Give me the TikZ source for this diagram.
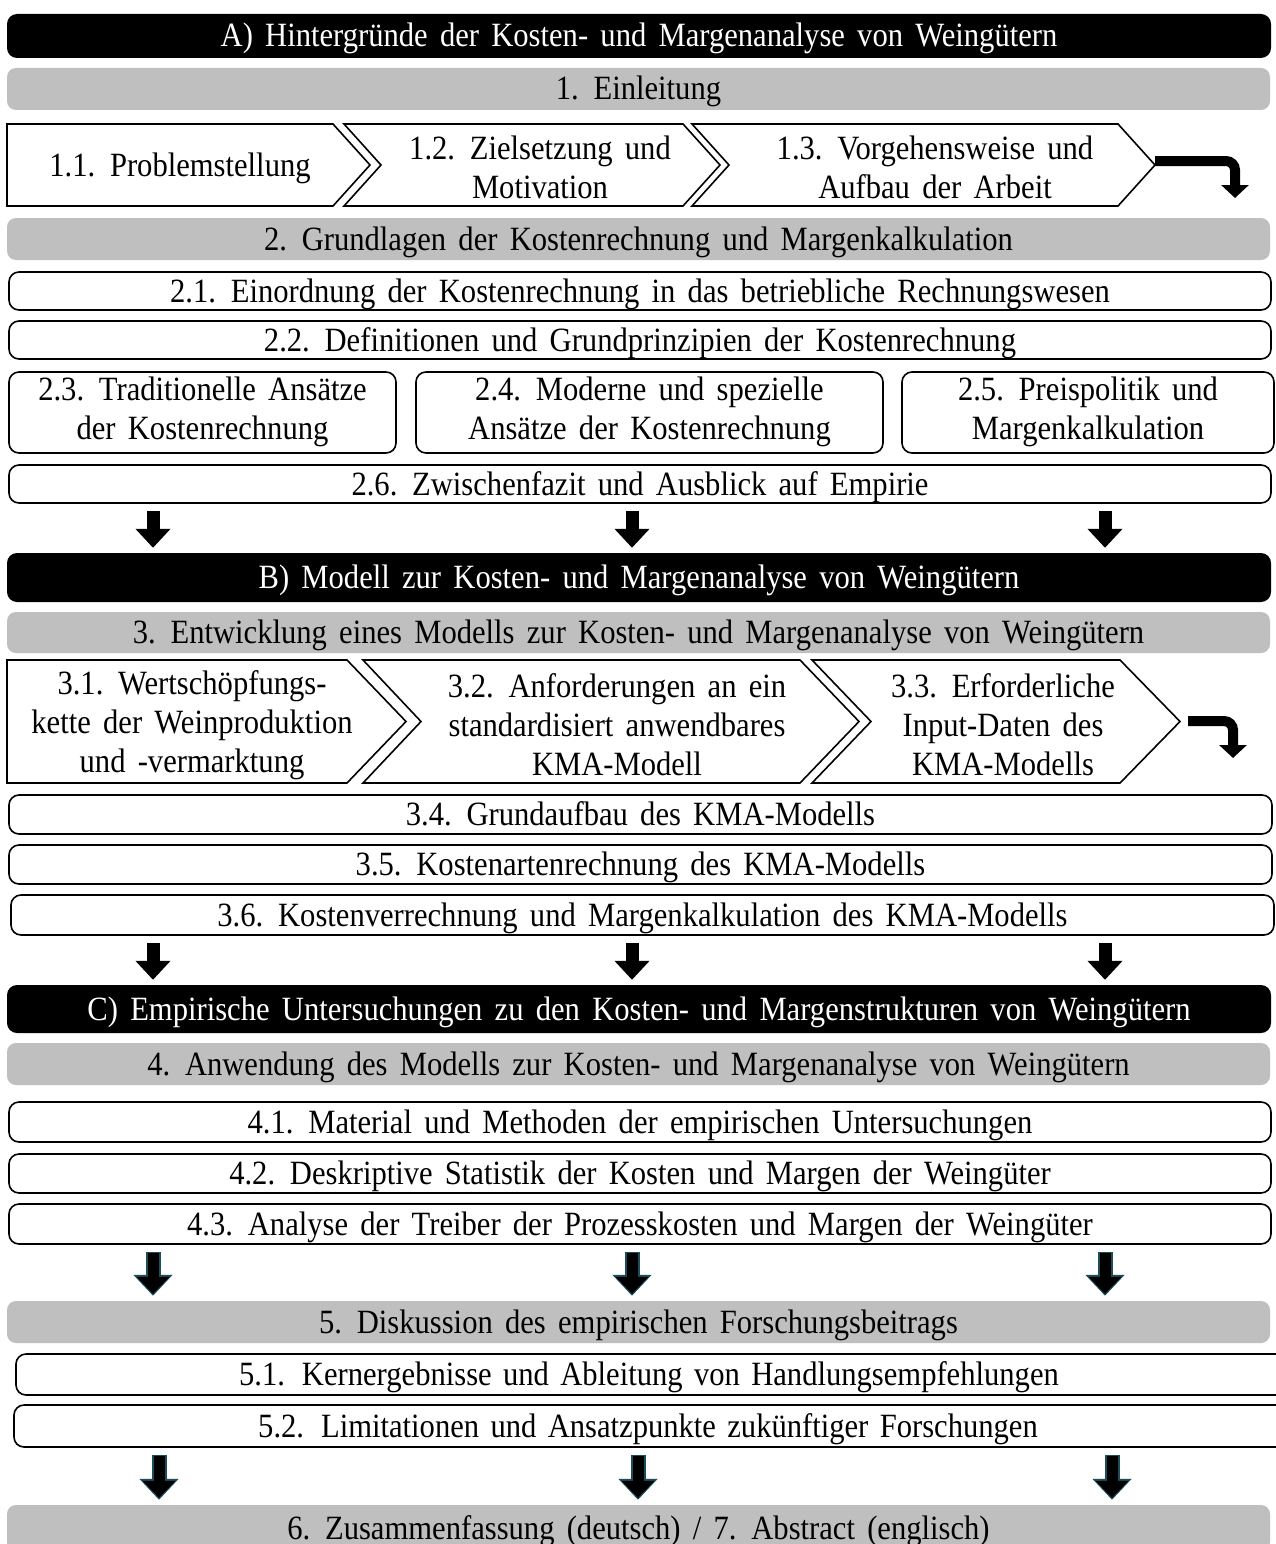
\documentclass[tikz,border=0pt]{standalone}
\usepackage{fontspec}
\setmainfont{Liberation Serif}[FakeStretch=0.9, WordSpace=1.6]
\usetikzlibrary{arrows.meta,calc}
\definecolor{barg}{HTML}{BFBFBF}
\definecolor{tealo}{HTML}{1B4E5A}
\newcommand{\twolines}[2]{\raisebox{-3pt}{\begin{tabular}{@{}c@{}}#1\\#2\end{tabular}}}
\begin{document}
\begin{tikzpicture}[x=1pt,y=-1pt,
  every node/.style={font=\fontsize{34}{39}\selectfont, inner sep=0pt, align=center},
  one/.style={text height=26pt, text depth=4pt},
  bbar/.style={one, fill=black, text=white, rounded corners=10pt, minimum width=1264pt},
  gbar/.style={one, fill=barg, rounded corners=9pt, minimum width=1263pt},
  wbox/.style={draw=black, line width=1.6pt, fill=white, rounded corners=10pt},
  chev/.style={draw=black, line width=1.6pt, fill=white, line join=miter},
  darr/.style={line width=13pt, -{Triangle[width=34pt,length=19pt]}, shorten <=7pt, shorten >=5pt},
  tarr/.style={line width=15pt, draw=tealo, -{Triangle[width=38pt,length=21pt]}, shorten <=7pt, shorten >=5pt},
  tarri/.style={line width=11pt, draw=black, -{Triangle[width=32pt,length=17pt]}, shorten <=8.5pt, shorten >=7pt},
  bent/.style={line width=10pt, rounded corners=9pt, -{Triangle[width=27pt,length=13pt]}}]
\useasboundingbox (0,0) rectangle (1276,1544);
\fill[white] (0,0) rectangle (1276,1544);
% x columns
\coordinate (xa) at (153,0);
\coordinate (xb) at (632,0);
\coordinate (xc) at (1105,0);
\coordinate (xd) at (159,0);
\coordinate (xe) at (638,0);
\coordinate (xf) at (1112,0);
% Part A
\node[bbar, minimum height=44pt] (A) at (639,36) {A) Hintergründe der Kosten- und Margenanalyse von Weingütern};
\node[gbar, minimum height=42pt] (g1) at (638.5,89) {1. Einleitung};
% chevrons row 1
\draw[chev] (7,124) -- (333,124) -- (370,165) -- (333,206) -- (7,206) -- cycle;
\draw[chev] (344,124) -- (683,124) -- (720,165) -- (683,206) -- (344,206) -- (381,165) -- cycle;
\draw[chev] (692,124) -- (1118,124) -- (1155,165) -- (1118,206) -- (692,206) -- (729,165) -- cycle;
\coordinate (t13) at (1155,161);
\node[one] (c11) at (180,165) {1.1. Problemstellung};
\node (c12) at (540,167) {1.2. Zielsetzung und\\Motivation};
\node (c13) at (935,167) {1.3. Vorgehensweise und\\Aufbau der Arbeit};
\draw[bent] (t13) -- (1235,161) -- (1235,198);
\node[gbar, minimum height=42pt] (g2) at (638.5,239) {2. Grundlagen der Kostenrechnung und Margenkalkulation};
\node[wbox, one, minimum width=1262pt, minimum height=38pt] (n21) at (640,291) {2.1. Einordnung der Kostenrechnung in das betriebliche Rechnungswesen};
\node[wbox, one, minimum width=1262pt, minimum height=38pt] (n22) at (640,340) {2.2. Definitionen und Grundprinzipien der Kostenrechnung};
\node[wbox, minimum width=387pt, minimum height=81pt] (n23) at (202.5,412.5) {\twolines{2.3. Traditionelle Ansätze}{der Kostenrechnung}};
\node[wbox, minimum width=467pt, minimum height=81pt] (n24) at (649.5,412.5) {\twolines{2.4. Moderne und spezielle}{Ansätze der Kostenrechnung}};
\node[wbox, minimum width=372pt, minimum height=81pt] (n25) at (1088,412.5) {\twolines{2.5. Preispolitik und}{Margenkalkulation}};
\node[wbox, one, minimum width=1262pt, minimum height=38pt] (n26) at (640,484) {2.6. Zwischenfazit und Ausblick auf Empirie};
% Part B
\node[bbar, minimum height=49pt] (B) at (639,577.5) {B) Modell zur Kosten- und Margenanalyse von Weingütern};
\foreach \c in {xa,xb,xc} \draw[darr] (n26.south -| \c) -- (B.north -| \c);
\node[gbar, minimum height=41pt] (g3) at (638.5,632.5) {3. Entwicklung eines Modells zur Kosten- und Margenanalyse von Weingütern};
% chevrons row 2
\draw[chev] (7,660) -- (347,660) -- (406,721.5) -- (347,783) -- (7,783) -- cycle;
\draw[chev] (363,660) -- (800,660) -- (859,721.5) -- (800,783) -- (363,783) -- (421,721.5) -- cycle;
\draw[chev] (812,660) -- (1120,660) -- (1180,721.5) -- (1120,783) -- (812,783) -- (871,721.5) -- cycle;
\coordinate (t33) at (1188,721);
\node (c31) at (192,725) {3.1. Wertschöpfungs-\\kette der Weinproduktion\\und -vermarktung};
\node (c32) at (617,725) {3.2. Anforderungen an ein\\standardisiert anwendbares\\KMA-Modell};
\node (c33) at (1003,725) {3.3. Erforderliche\\Input-Daten des\\KMA-Modells};
\draw[bent] (t33) -- (1233,721) -- (1233,758);
\node[wbox, one, minimum width=1263pt, minimum height=39pt] (n34) at (640.5,814.5) {3.4. Grundaufbau des KMA-Modells};
\node[wbox, one, minimum width=1263pt, minimum height=39pt] (n35) at (640.5,864.5) {3.5. Kostenartenrechnung des KMA-Modells};
\node[wbox, one, minimum width=1263pt, minimum height=40pt] (n36) at (642.5,915) {3.6. Kostenverrechnung und Margenkalkulation des KMA-Modells};
% Part C
\node[bbar, minimum height=48pt] (C) at (639,1009) {C) Empirische Untersuchungen zu den Kosten- und Margenstrukturen von Weingütern};
\foreach \c in {xa,xb,xc} \draw[darr] (n36.south -| \c) -- (C.north -| \c);
\node[gbar, minimum height=42pt] (g4) at (638.5,1064) {4. Anwendung des Modells zur Kosten- und Margenanalyse von Weingütern};
\node[wbox, one, minimum width=1262pt, minimum height=40pt] (n41) at (640,1122) {4.1. Material und Methoden der empirischen Untersuchungen};
\node[wbox, one, minimum width=1262pt, minimum height=39pt] (n42) at (640,1173.5) {4.2. Deskriptive Statistik der Kosten und Margen der Weingüter};
\node[wbox, one, minimum width=1262pt, minimum height=40pt] (n43) at (640,1224) {4.3. Analyse der Treiber der Prozesskosten und Margen der Weingüter};
\node[gbar, minimum height=42pt] (g5) at (638.5,1322) {5. Diskussion des empirischen Forschungsbeitrags};
\foreach \c in {xa,xb,xc} {
  \draw[tarr] (n43.south -| \c) -- (g5.north -| \c);
  \draw[tarri] (n43.south -| \c) -- (g5.north -| \c);
}
\node[wbox, one, minimum width=1274pt, minimum height=41pt, text width=1274pt] (n51) at (653,1374.5) {\hspace*{-8pt}5.1. Kernergebnisse und Ableitung von Handlungsempfehlungen};
\node[wbox, one, minimum width=1276pt, minimum height=42pt, text width=1276pt] (n52) at (652,1426) {\hspace*{-8pt}5.2. Limitationen und Ansatzpunkte zukünftiger Forschungen};
\node[gbar, minimum height=46pt] (g6) at (638.5,1528) {6. Zusammenfassung (deutsch) / 7. Abstract (englisch)};
\foreach \c in {xd,xe,xf} {
  \draw[tarr] (n52.south -| \c) -- (g6.north -| \c);
  \draw[tarri] (n52.south -| \c) -- (g6.north -| \c);
}
\end{tikzpicture}
\end{document}
